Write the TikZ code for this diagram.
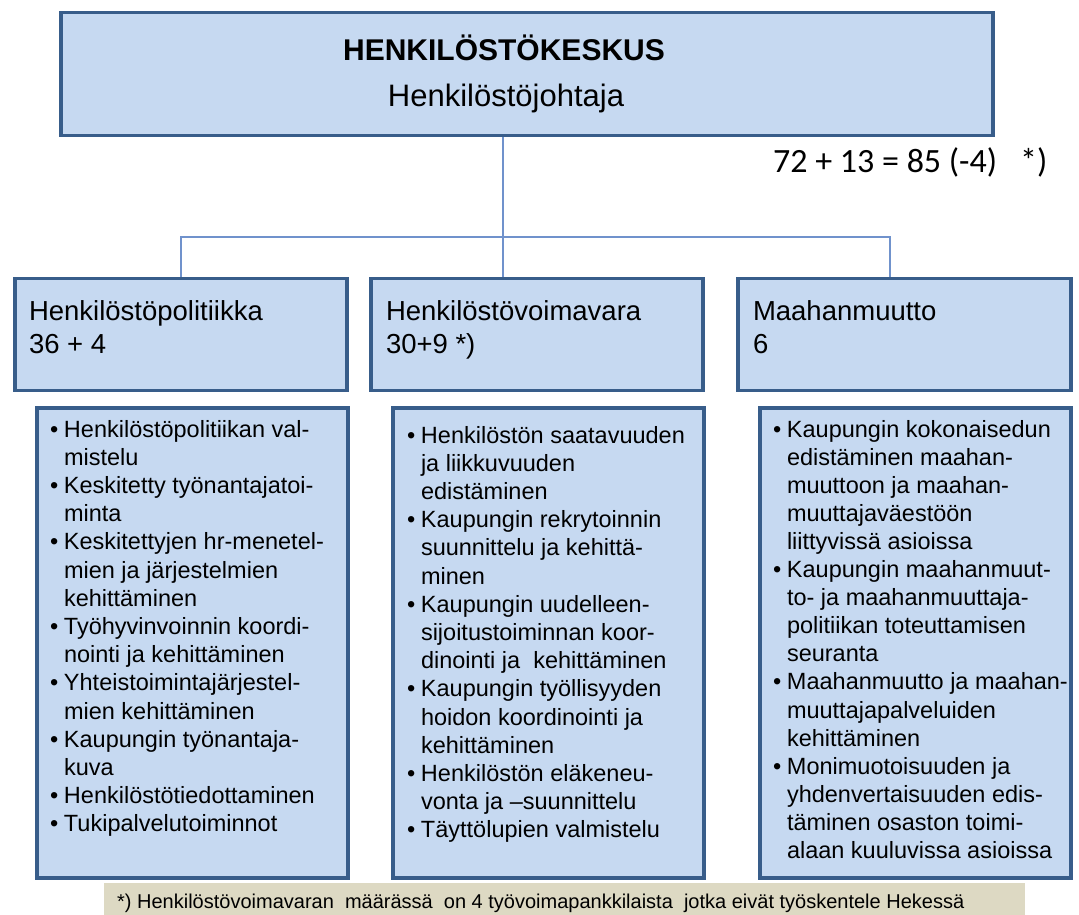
\documentclass[tikz,border=0pt]{standalone}
\usepackage{fontspec}
\setmainfont{Liberation Sans}
\newfontfamily\calfont{Carlito}
\usetikzlibrary{backgrounds}
\definecolor{boxfill}{HTML}{C6D9F1}
\definecolor{boxline}{HTML}{385D8A}
\definecolor{connline}{HTML}{7092CC}
\definecolor{footfill}{HTML}{DDD9C3}
\newcommand\bu{\makebox[14pt][l]{\textbullet}}
\newcommand\co{\hspace*{14pt}}
\begin{document}
\begin{tikzpicture}[x=1pt,y=-1pt,
  box/.style={draw=boxline, fill=boxfill, line width=3.5pt, inner sep=0pt, outer sep=0pt},
  conn/.style={draw=connline, line width=1.4pt},
  txt/.style={inner sep=0pt, outer sep=0pt, font=\fontsize{23.5}{28.2}\selectfont},
  head/.style={inner sep=0pt, outer sep=0pt, anchor=base west, font=\fontsize{27.5}{32}\selectfont}]
\useasboundingbox (0,0) rectangle (1079,915);
% top box
\node[box, minimum width=932pt, minimum height=123pt] (top) at (527,74) {};
\node[inner sep=0pt, anchor=base, font=\bfseries\fontsize{30}{36}\selectfont] (title) at (504,61) {HENKILÖSTÖKESKUS};
\node[inner sep=0pt, anchor=base, font=\fontsize{31}{36}\selectfont] (subtitle) at (506,107) {Henkilöstöjohtaja};
\node[inner sep=0pt, anchor=base west, font=\calfont\fontsize{34}{38}\selectfont] (total) at (773,172) {72 + 13 = 85 (-4)\ \ \ *)};
% second row
\node[box, minimum width=332pt, minimum height=112pt] (b1) at (181,334.5) {};
\node[box, minimum width=332pt, minimum height=112pt] (b2) at (537,334.5) {};
\node[box, minimum width=333pt, minimum height=112pt] (b3) at (904.5,334.5) {};
\node[head] (h1a) at (29,320) {Henkilöstöpolitiikka};
\node[head] (h1b) at (29,353) {36 + 4};
\node[head] (h2a) at (386,320) {Henkilöstövoimavara};
\node[head] (h2b) at (386,353) {30+9 *)};
\node[head] (h3a) at (753,320) {Maahanmuutto};
\node[head] (h3b) at (753,353) {6};
% connectors
\coordinate (hub) at (503,237);
\coordinate (jl) at (181,237);
\coordinate (jr) at (890,237);
\begin{scope}[on background layer]
\draw[conn] (top.south -| hub) -- (b2.north -| hub);
\draw[conn] (b1.north -| jl) -- (jl) -- (jr) -- (b3.north -| jr);
\end{scope}
% third row
\node[box, minimum width=311pt, minimum height=470pt] (A) at (192.5,643) {};
\node[box, minimum width=311pt, minimum height=470pt] (B) at (548.5,643) {};
\node[box, minimum width=311pt, minimum height=470pt] (C) at (915.5,643) {};
\foreach \t [count=\i from 0] in {\bu Henkilöstöpolitiikan val-, \co mistelu, \bu Keskitetty työnantajatoi-, \co minta, \bu Keskitettyjen hr-menetel-, \co mien ja järjestelmien, \co kehittäminen, \bu Työhyvinvoinnin koordi-, \co nointi ja kehittäminen, \bu Yhteistoimintajärjestel-, \co mien kehittäminen, \bu Kaupungin työnantaja-, \co kuva, \bu Henkilöstötiedottaminen, \bu Tukipalvelutoiminnot}
  \node[txt, anchor=base west, name=a\i] at (50,{437+28.2*\i}) {\t};
\foreach \t [count=\i from 0] in {\bu Henkilöstön saatavuuden, \co ja liikkuvuuden, \co edistäminen, \bu Kaupungin rekrytoinnin, \co suunnittelu ja kehittä-, \co minen, \bu Kaupungin uudelleen-, \co sijoitustoiminnan koor-, \co dinointi ja\ \ kehittäminen, \bu Kaupungin työllisyyden, \co hoidon koordinointi ja, \co kehittäminen, \bu Henkilöstön eläkeneu-, \co vonta ja –suunnittelu, \bu Täyttölupien valmistelu}
  \node[txt, anchor=base west, name=b\i] at (407,{443+28.2*\i}) {\t};
\foreach \t [count=\i from 0] in {\bu Kaupungin kokonaisedun, \co edistäminen maahan-, \co muuttoon ja maahan-, \co muuttajaväestöön, \co liittyvissä asioissa, \bu Kaupungin maahanmuut-, \co to- ja maahanmuuttaja-, \co politiikan toteuttamisen, \co seuranta, \bu Maahanmuutto ja maahan-, \co muuttajapalveluiden, \co kehittäminen, \bu Monimuotoisuuden ja, \co yhdenvertaisuuden edis-, \co täminen osaston toimi-, \co alaan kuuluvissa asioissa}
  \node[txt, anchor=base west, name=c\i] at (773,{437+28.1*\i}) {\t};
% footer
\node[fill=footfill, inner sep=0pt, minimum width=921pt, minimum height=32pt] (foot) at (564.5,899) {};
\node[inner sep=0pt, anchor=base west, font=\fontsize{20}{24}\selectfont] (foottext) at (117,908) {*) Henkilöstövoimavaran\ \ määrässä\ \ on 4 työvoimapankkilaista\ \ jotka eivät työskentele Hekessä};
\end{tikzpicture}
\end{document}
